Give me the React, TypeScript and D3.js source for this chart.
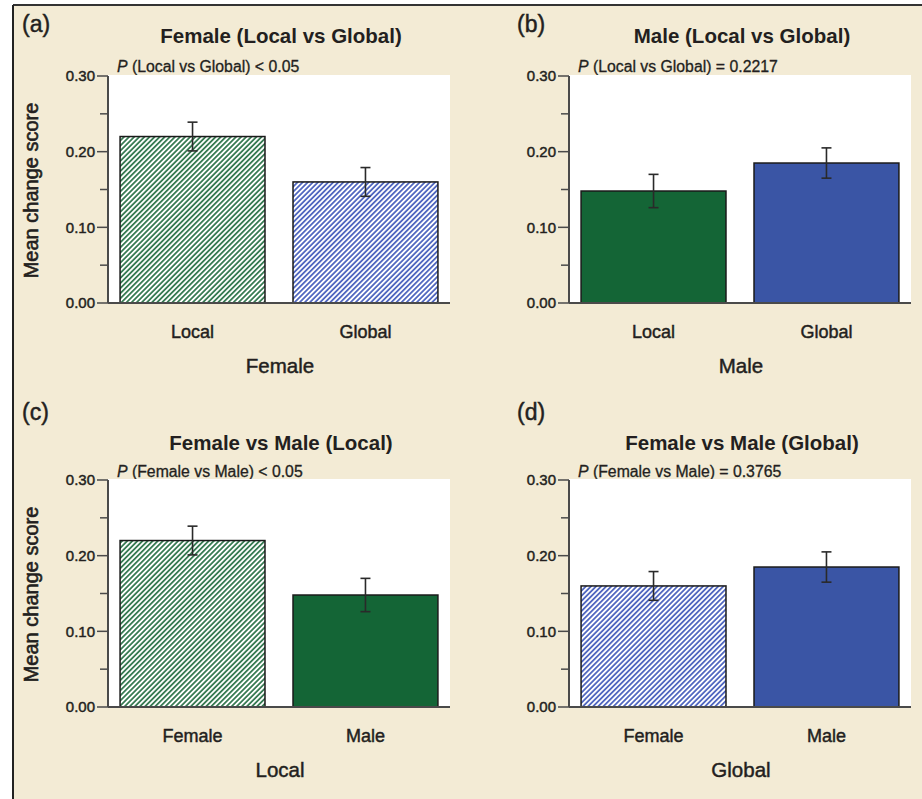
import React from 'react';
import * as d3 from 'd3';

// ---- data ----
const panelLabels = ['(a)', '(b)', '(c)', '(d)'];
const panelTitles = [
  'Female (Local vs Global)',
  'Male (Local vs Global)',
  'Female vs Male (Local)',
  'Female vs Male (Global)',
];
const pComparisons = ['(Local vs Global) < 0.05', '(Local vs Global) = 0.2217', '(Female vs Male) < 0.05', '(Female vs Male) = 0.3765'];
const groupTitles = ['Female', 'Male', 'Local', 'Global'];
const categoryLabels = [
  ['Local', 'Global'],
  ['Local', 'Global'],
  ['Female', 'Male'],
  ['Female', 'Male'],
];
// condition order: Female-Local, Female-Global, Male-Local, Male-Global
const meanScores = [0.22, 0.16, 0.148, 0.185];
const errorHalf = [0.019, 0.019, 0.022, 0.02];
const panelConditions = [
  [0, 1],
  [2, 3],
  [0, 2],
  [1, 3],
];
const yTicksMajor = [0, 0.1, 0.2, 0.3];
const yTicksMinor = [0.05, 0.15, 0.25];

// ---- style ----
const BG = '#f3ebd5';
const TEXT = '#231f20';
const AXIS = '#4a4a4a';
const fills = ['url(#hatchGreen)', 'url(#hatchBlue)', '#146536', '#3a55a5'];
const FONT = 'Liberation Sans, Arial, Helvetica, sans-serif';
const thick = { stroke: TEXT, strokeWidth: 0.45 } as const;

const cols = [108, 569];
const rows = [
  { top: 76, bottom: 303, label: 32, title: 43, p: 72 },
  { top: 480, bottom: 707, label: 420, title: 450, p: 477 },
];
const PLOT_W = 342;

function Panel({ idx }: { idx: number }) {
  const ax = cols[idx % 2];
  const r = rows[Math.floor(idx / 2)];
  const y = d3.scaleLinear().domain([0, 0.3]).range([r.bottom, r.top]);
  const cats = categoryLabels[idx];
  const x = d3
    .scaleBand<string>()
    .domain(cats)
    .range([ax + 1, ax + PLOT_W - 1])
    .paddingInner(0.162)
    .paddingOuter(0.064);
  const cx = ax + PLOT_W / 2;
  const conds = panelConditions[idx];
  return (
    <g>
      <text x={idx % 2 === 0 ? 22 : 517} y={r.label} fontSize={23} fill={TEXT} fontFamily={FONT} {...thick}>
        {panelLabels[idx]}
      </text>
      <text x={cx + 2} y={r.title} fontSize={20.5} fontWeight="bold" textAnchor="middle" fill={TEXT} fontFamily={FONT}>
        {panelTitles[idx]}
      </text>
      <text x={ax + 9} y={r.p} fontSize={15.8} fill={TEXT} fontFamily={FONT} {...thick} strokeWidth={0.3}>
        <tspan fontStyle="italic">P</tspan> {pComparisons[idx]}
      </text>
      <rect x={ax} y={r.top - 1} width={PLOT_W} height={r.bottom - r.top + 1} fill="#fff" />
      {cats.map((c, i) => {
        const ci = conds[i];
        const m = meanScores[ci];
        const e = errorHalf[ci];
        const bx = x(c)!;
        const bw = x.bandwidth();
        const mid = bx + bw / 2;
        return (
          <g key={c}>
            <rect x={bx} y={y(m)} width={bw} height={r.bottom - y(m)} fill={fills[ci]} stroke="#1a1a1a" strokeWidth={1.5} />
            <line x1={mid} x2={mid} y1={y(m + e)} y2={y(m - e)} stroke="#2a2a2a" strokeWidth={1.6} />
            <line x1={mid - 5} x2={mid + 5} y1={y(m + e)} y2={y(m + e)} stroke="#2a2a2a" strokeWidth={1.6} />
            <line x1={mid - 5} x2={mid + 5} y1={y(m - e)} y2={y(m - e)} stroke="#2a2a2a" strokeWidth={1.6} />
            <text x={mid} y={r.bottom + 35} fontSize={18} textAnchor="middle" fill={TEXT} fontFamily={FONT} {...thick}>
              {c}
            </text>
          </g>
        );
      })}
      <line x1={ax} x2={ax} y1={r.top} y2={r.bottom} stroke={AXIS} strokeWidth={2} />
      <line x1={ax} x2={ax + PLOT_W} y1={r.bottom} y2={r.bottom} stroke={AXIS} strokeWidth={2} />
      {yTicksMajor.map((t) => (
        <g key={t}>
          <line x1={ax - 11} x2={ax} y1={y(t)} y2={y(t)} stroke={AXIS} strokeWidth={1.5} />
          <text x={ax - 13} y={y(t)} dy="0.36em" fontSize={15} textAnchor="end" fill={TEXT} fontFamily={FONT} {...thick}>
            {d3.format('.2f')(t)}
          </text>
        </g>
      ))}
      {yTicksMinor.map((t) => (
        <line key={t} x1={ax - 8} x2={ax} y1={y(t)} y2={y(t)} stroke={AXIS} strokeWidth={1.5} />
      ))}
      <text x={cx + 1} y={r.bottom + 70} fontSize={20.5} textAnchor="middle" fill={TEXT} fontFamily={FONT} {...thick}>
        {groupTitles[idx]}
      </text>
      {idx % 2 === 0 && (
        <text
          transform={`translate(38,${(r.top + r.bottom) / 2 + 1}) rotate(-90)`}
          fontSize={20}
          textAnchor="middle"
          fill={TEXT}
          fontFamily={FONT}
          {...thick}
          strokeWidth={0.6}
        >
          Mean change score
        </text>
      )}
    </g>
  );
}

export default function App() {
  return (
    <svg width={922} height={799} style={{ position: 'absolute', left: 0, top: 0, display: 'block' }}>
      <defs>
        <pattern id="hatchGreen" patternUnits="userSpaceOnUse" width={3.6} height={10} patternTransform="rotate(45)">
          <rect width={3.6} height={10} fill="#fff" />
          <line x1={0.9} x2={0.9} y1={0} y2={10} stroke="#1f6b3e" strokeWidth={1.6} />
        </pattern>
        <pattern id="hatchBlue" patternUnits="userSpaceOnUse" width={3.6} height={10} patternTransform="rotate(45)">
          <rect width={3.6} height={10} fill="#fff" />
          <line x1={0.9} x2={0.9} y1={0} y2={10} stroke="#3c55b8" strokeWidth={1.6} />
        </pattern>
      </defs>
      <rect x={0} y={0} width={922} height={799} fill="#fff" />
      <rect x={13} y={5} width={909} height={794} fill={BG} />
      <line x1={13} x2={922} y1={5} y2={5} stroke="#333" strokeWidth={2} />
      <line x1={13} x2={13} y1={5} y2={799} stroke="#222" strokeWidth={2} />
      {[0, 1, 2, 3].map((i) => (
        <Panel key={i} idx={i} />
      ))}
    </svg>
  );
}
